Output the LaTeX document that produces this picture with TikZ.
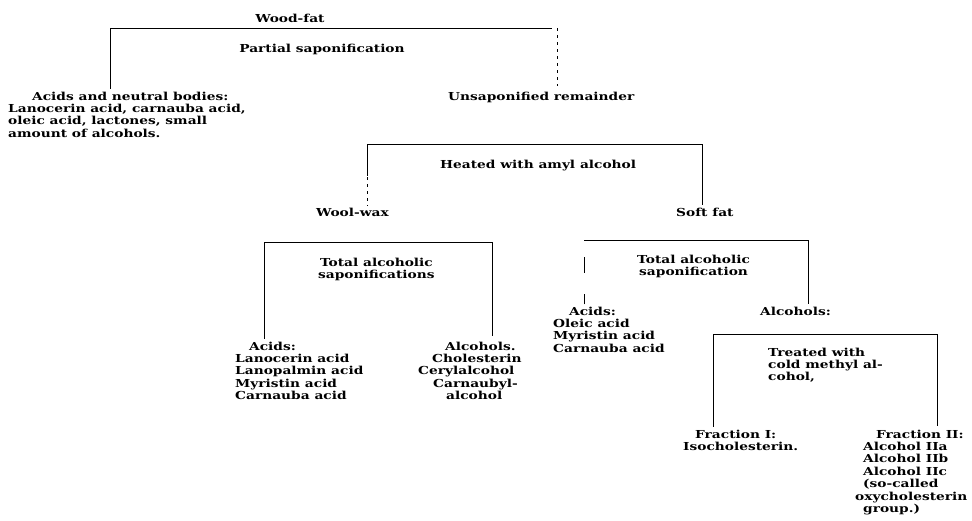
\documentclass[tikz,border=0pt]{standalone}
\usepackage{fontspec}
\setmainfont{DejaVu Serif}[FakeStretch=1.25]
\newcommand\Lrows[1]{\vtop{\baselineskip=12.4pt\halign{##\hfil\cr#1\crcr}}}
\newcommand\Crows[1]{\vtop{\baselineskip=12.4pt\halign{\hfil##\hfil\cr#1\crcr}}}
\begin{document}
\begin{tikzpicture}[x=1pt,y=-1pt,
  txt/.style={inner sep=0pt,anchor=base west,font=\fontsize{11}{12.4}\selectfont\bfseries},
  ctxt/.style={inner sep=0pt,anchor=base,font=\fontsize{11}{12.4}\selectfont\bfseries},
  ln/.style={line width=0.8pt,black},
  dln/.style={line width=0.8pt,black,dash pattern=on 3pt off 4pt}]
\useasboundingbox (0,0) rectangle (972,520);
% level 1
\node[ctxt] (wood) at (290,22) {Wood-fat};
\coordinate (b1l) at (110,28);
\coordinate (b1r) at (552,28);
\coordinate (b1d) at (557,28);
\node[ctxt] (partial) at (322,52) {Partial saponification};
\node[txt] (acidsA) at (8,100) {\Lrows{\hskip24pt Acids and neutral bodies:\cr Lanocerin acid, carnauba acid,\cr oleic acid, lactones, small\cr amount of alcohols.}};
\node[txt] (unsap) at (448,100) {Unsaponified remainder};
\draw[ln] (b1l) -- (b1r);
\draw[ln] (b1l) -- ([yshift=2pt]b1l |- acidsA.north);
\draw[dln] (b1d) -- ++(0,58);
% level 2
\coordinate (b2l) at (367,144);
\coordinate (b2r) at (702,144);
\node[txt] (heated) at (440,168) {Heated with amyl alcohol};
\node[txt] (woolwax) at (316,216) {Wool-wax};
\node[txt] (softfat) at (676,216) {Soft fat};
\draw[ln] (b2l) -- (b2r);
\draw[ln] (b2l) -- ++(0,32);
\draw[dln] ([yshift=-33pt]b2l) -- ([yshift=2pt]b2l |- woolwax.north);
\draw[ln] (b2r) -- ([yshift=2pt]b2r |- softfat.north);
% level 3 left
\coordinate (b3l) at (264,242);
\coordinate (b3r) at (492,242);
\node[txt] (tas1) at (318,266) {\Crows{Total alcoholic\cr saponifications}};
\node[txt] (acids1) at (235,350) {\Lrows{\hskip14pt Acids:\cr Lanocerin acid\cr Lanopalmin acid\cr Myristin acid\cr Carnauba acid}};
\node[txt] (alc1) at (418,350) {\Lrows{\hskip27pt Alcohols.\cr \hskip14pt Cholesterin\cr Cerylalcohol\cr \hskip15pt Carnaubyl-\cr \hskip28pt alcohol}};
\draw[ln] (b3l) -- (b3r);
\draw[ln] (b3l) -- ([yshift=2pt]b3l |- acids1.north);
\draw[ln] (b3r) -- ([yshift=5pt]b3r |- alc1.north);
% level 3 right
\coordinate (b4l) at (584,240);
\coordinate (b4r) at (808,240);
\node[txt] (tas2) at (637,263) {\Crows{Total alcoholic\cr saponification}};
\node[txt] (acids2) at (553,315) {\Lrows{\hskip16pt Acids:\cr Oleic acid\cr Myristin acid\cr Carnauba acid}};
\node[txt] (alc2) at (760,315) {Alcohols:};
\draw[ln] (b4l) -- (b4r);
\draw[ln] ([yshift=-17pt]b4l) -- ++(0,16);
\draw[ln] ([yshift=2pt]b4l |- acids2.north) -- ++(0,-10);
\draw[ln] (b4r) -- ([yshift=2pt]b4r |- alc2.north);
% level 4
\coordinate (b5l) at (713,334);
\coordinate (b5r) at (937,334);
\node[txt] (treated) at (768,356) {\Lrows{Treated with\cr cold methyl al-\cr cohol,}};
\node[txt] (frac1) at (683,438) {\Lrows{\hskip12pt Fraction I:\cr Isocholesterin.}};
\node[txt] (frac2) at (855,438) {\Lrows{\hskip21pt Fraction II:\cr \hskip8pt Alcohol IIa\cr \hskip8pt Alcohol IIb\cr \hskip8pt Alcohol IIc\cr \hskip8pt (so-called\cr oxycholesterin\cr \hskip8pt group.)}};
\draw[ln] (b5l) -- (b5r);
\draw[ln] (b5l) -- ([yshift=2pt]b5l |- frac1.north);
\draw[ln] (b5r) -- ([yshift=3pt]b5r |- frac2.north);
\end{tikzpicture}
\end{document}
